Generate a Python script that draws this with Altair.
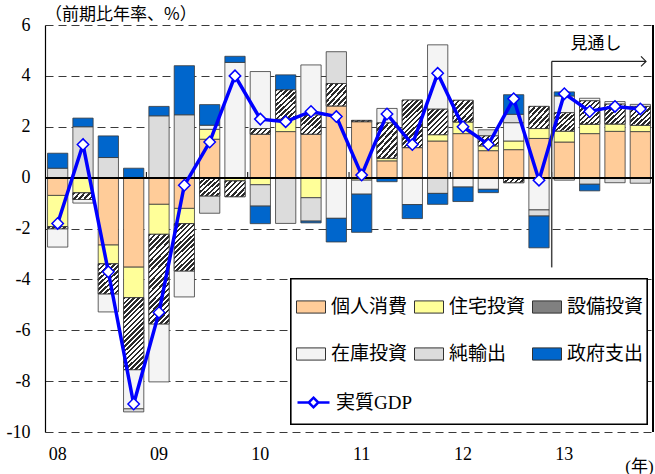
import altair as alt
import pandas as pd

# Quarterly periods, 2008Q1 - 2013Q4
quarters = [
    "08Q1", "08Q2", "08Q3", "08Q4", "09Q1", "09Q2", "09Q3", "09Q4",
    "10Q1", "10Q2", "10Q3", "10Q4", "11Q1", "11Q2", "11Q3", "11Q4",
    "12Q1", "12Q2", "12Q3", "12Q4", "13Q1", "13Q2", "13Q3", "13Q4",
]

# Stacking order, from the zero line outwards
components = ["個人消費", "住宅投資", "設備投資", "在庫投資", "純輸出", "政府支出"]

# Contributions to real GDP growth (annualised q/q, % points)
consumption = [-0.70, 0.00, -2.65, -3.52, -1.05, -1.21, 1.51, 0.00,
               1.71, 1.81, 1.71, 2.82, 2.20, 0.66, 1.18, 1.44,
               1.73, 1.06, 1.10, 1.54, 1.40, 1.73, 1.82, 1.81]
housing = [-1.23, -0.60, -0.74, -1.20, -1.18, -0.60, 0.39, -0.13,
           -0.28, 0.49, -0.79, 0.00, -0.10, 0.10, 0.00, 0.25,
           0.46, 0.19, 0.34, 0.39, 0.43, 0.37, 0.29, 0.25]
equipment = [-0.08, -0.26, -1.18, -2.83, -3.52, -1.86, -0.72, -0.62,
             0.22, 1.15, 0.75, 0.88, 0.05, 1.39, 1.87, 1.00,
             0.85, 0.39, -0.20, 0.87, 0.72, 0.92, 0.78, 0.74]
inventory = [-0.72, -0.14, -0.71, -1.54, -2.28, -1.02, 0.16, 4.53,
             2.24, 0.00, 1.97, -1.60, -0.55, 0.57, -1.06, 2.53,
             -0.37, -0.46, 0.72, -1.27, 0.66, 0.10, 0.10, 0.08]
net_exports = [0.37, 2.00, 0.79, -0.12, 2.43, 2.47, -0.68, 0.00,
               -0.84, -1.80, -0.92, 1.25, 0.00, 0.00, 0.00, -0.62,
               0.00, 0.24, 0.33, -0.24, -0.10, -0.26, -0.20, -0.22]
government = [0.59, 0.34, 0.85, 0.37, 0.37, 1.93, 0.81, 0.24,
              -0.69, 0.59, -0.07, -0.93, -1.50, -0.16, -0.55, -0.43,
              -0.57, -0.13, 0.77, -1.25, 0.16, -0.26, 0.00, 0.00]
real_gdp = [-1.8, 1.3, -3.7, -8.9, -5.3, -0.3, 1.4, 4.0,
            2.3, 2.2, 2.6, 2.4, 0.1, 2.5, 1.3, 4.1,
            2.0, 1.3, 3.1, -0.1, 3.3, 2.6, 2.8, 2.7]

fills = {
    "個人消費": "#FFCC99",
    "住宅投資": "#FFFF99",
    "設備投資": "#808080",
    "在庫投資": "#F4F4F4",
    "純輸出": "#DCDCDC",
    "政府支出": "#0066CC",
}
# Legend fills column by column (2 rows x 3 columns)
legend_order = ["個人消費", "在庫投資", "住宅投資", "純輸出", "設備投資", "政府支出"]

series = [consumption, housing, equipment, inventory, net_exports, government]

rows = []
for k, (name, vals) in enumerate(zip(components, series)):
    for q, v in zip(quarters, vals):
        rows.append({"q": q, "comp": name, "order": k, "value": v})
contrib = pd.DataFrame(rows)
gdp = pd.DataFrame({"q": quarters, "gdp": real_gdp, "series": "実質GDP"})
year_starts = pd.DataFrame({"q": [q for q in quarters if q.endswith("Q1")][1:]})
forecast = pd.DataFrame({"q": ["13Q1"]})

W, H = 608, 407
Y_MIN, Y_MAX = -10, 6
PX_PER_UNIT = H / (Y_MAX - Y_MIN)
BAR_W = W / len(quarters) * 0.8

SERIF_CJK = "'Liberation Serif', 'Noto Sans CJK JP'"
CJK = "'Noto Sans CJK JP'"
EDGE = "#3a3a3a"

x_enc = alt.X(
    "q:O",
    sort=quarters,
    scale=alt.Scale(domain=quarters, paddingInner=0.2, paddingOuter=0.1),
    axis=alt.Axis(
        title="(年)",
        labelExpr="slice(datum.value, -2) == 'Q1' ? slice(datum.value, 0, 2) : ''",
        labelAngle=0,
        labelFont="Liberation Serif",
        labelFontSize=18,
        labelColor="black",
        labelPadding=22,
        labelBaseline="middle",
        ticks=False,
        tickSize=0,
        domain=False,
        grid=False,
        titleFont=SERIF_CJK,
        titleFontSize=17,
        titleFontWeight="normal",
        titleColor="black",
        titleX=594,
        titleY=34,
        titleAlign="center",
        titleBaseline="middle",
    ),
)

y_scale = alt.Scale(domain=[Y_MIN, Y_MAX], nice=False, zero=False)
y_axis = alt.Axis(
    title=None,
    values=list(range(Y_MIN, Y_MAX + 1, 2)),
    labelExpr="datum.value + ''",
    labelFont="Liberation Serif",
    labelFontSize=18,
    labelColor="black",
    labelPadding=15,
    ticks=False,
    tickSize=0,
    domainColor="black",
    domainWidth=1.2,
    grid=True,
    gridColor="#3a3a3a",
    gridDash=[8, 5],
    gridWidth=1,
)

stacked = (
    alt.Chart(contrib)
    .transform_filter("datum.value != 0")
    .transform_stack(
        stack="value",
        groupby=["q"],
        sort=[alt.SortField("order", order="ascending")],
        as_=["v0", "v1"],
    )
)

rect_symbol = "M-1,-0.42H1V0.42H-1Z"
bars = stacked.mark_bar(stroke=EDGE, strokeWidth=0.8).encode(
    x=x_enc,
    y=alt.Y("v0:Q", scale=y_scale, axis=y_axis),
    y2="v1:Q",
    fill=alt.Fill(
        "comp:N",
        scale=alt.Scale(domain=legend_order, range=[fills[c] for c in legend_order]),
        legend=alt.Legend(
            title=None,
            orient="none",
            legendX=251,
            legendY=267,
            columns=3,
            symbolType=rect_symbol,
            symbolSize=841,
            symbolStrokeColor="#333333",
            symbolStrokeWidth=1,
            labelFont=CJK,
            labelFontSize=19,
            labelColor="black",
            labelOffset=5,
            labelLimit=0,
            columnPadding=4,
            rowPadding=22,
            padding=0,
        ),
    ),
)


def hatch(height_px, period=5.0, dark="#2b2b2b", light="#ffffff"):
    """Diagonal '/' stripes at roughly 45 degrees for a bar of the given height."""
    h = max(height_px, 1.0)
    a0 = BAR_W / h
    s = (a0 + 1) / (a0 * a0 + 1)
    n = max(1, round((BAR_W + h) / period))
    stops = []
    for i in range(n):
        lo, mid, hi = i / n, (i + 0.5) / n, (i + 1) / n
        stops += [
            alt.GradientStop(color=dark, offset=lo),
            alt.GradientStop(color=dark, offset=mid),
            alt.GradientStop(color=light, offset=mid),
            alt.GradientStop(color=light, offset=hi),
        ]
    return alt.LinearGradient(gradient="linear", stops=stops, x1=0, y1=0, x2=s * a0, y2=s)


# Hatched overlay for equipment investment, grouped by segment height
edges = [0, 0.15, 0.3, 0.5, 0.7, 0.9, 1.1, 1.4, 1.7, 2.1, 2.6, 3.1, 3.7, 4.5]
hatch_layers = []
for lo, hi in zip(edges[:-1], edges[1:]):
    if not any(lo <= abs(v) < hi and v != 0 for v in equipment):
        continue
    rep = (lo + hi) / 2 * PX_PER_UNIT
    hatch_layers.append(
        stacked.transform_filter(
            f"datum.comp == '設備投資' && abs(datum.value) >= {lo} && abs(datum.value) < {hi}"
        )
        .mark_bar(fill=hatch(rep), stroke=EDGE, strokeWidth=0.8)
        .encode(x="q:O", y="v0:Q", y2="v1:Q")
    )

zero_line = alt.Chart(gdp).mark_rule(color="black", strokeWidth=1.2).encode(y=alt.datum(0))

year_ticks = (
    alt.Chart(year_starts)
    .mark_rule(color="black", strokeWidth=1, xOffset=-2.5)
    .encode(x=alt.X("q:O", bandPosition=0), y=alt.datum(0), y2=alt.datum(0.22))
)

gdp_symbol = "M-1,0H-0.3M0.3,0H1M0,-0.3L0.3,0L0,0.3L-0.3,0Z"
gdp_line = alt.Chart(gdp).mark_line(strokeWidth=3.5).encode(
    x="q:O",
    y="gdp:Q",
    stroke=alt.Stroke(
        "series:N",
        scale=alt.Scale(domain=["実質GDP"], range=["#0000FF"]),
        legend=alt.Legend(
            title=None,
            orient="none",
            legendX=251,
            legendY=360,
            symbolType=gdp_symbol,
            symbolSize=1024,
            symbolStrokeWidth=2.5,
            symbolFillColor="white",
            labelFont=SERIF_CJK,
            labelFontSize=19,
            labelColor="black",
            labelOffset=5,
            labelLimit=0,
            padding=0,
        ),
    ),
)
gdp_points = alt.Chart(gdp).mark_point(
    shape="diamond", filled=True, fill="white", stroke="#0000FF", strokeWidth=1.5, size=130, opacity=1
).encode(x="q:O", y="gdp:Q")

legend_frame = alt.Chart(gdp).mark_rect(fill="white", stroke="black", strokeWidth=1.2).encode(
    x=alt.value(246), x2=alt.value(602), y=alt.value(254), y2=alt.value(399)
)

right_border = alt.Chart(gdp).mark_rule(color="black", strokeWidth=1.2).encode(
    x=alt.value(W), y=alt.value(0), y2=alt.value(H)
)

forecast_vline = (
    alt.Chart(forecast)
    .mark_rule(color="#444444", strokeWidth=1.5, xOffset=-2.5)
    .encode(x=alt.X("q:O", bandPosition=0), y=alt.datum(4.57), y2=alt.datum(-3.53))
)
forecast_arrow = (
    alt.Chart(forecast)
    .mark_rule(color="#222222", strokeWidth=1.2, xOffset=-2.5)
    .encode(x=alt.X("q:O", bandPosition=0), x2=alt.value(601), y=alt.datum(4.57))
)
arrow_head = alt.Chart(forecast).mark_point(
    shape="M-1,-1L0,0L-1,1", filled=False, color="#222222", strokeWidth=1.2, size=100, opacity=1
).encode(x=alt.value(601), y=alt.datum(4.57))
forecast_label = alt.Chart(forecast).mark_text(
    text="見通し", font=CJK, fontSize=17, color="black", align="center", baseline="middle"
).encode(x=alt.value(551), y=alt.datum(5.24))

chart = (
    alt.layer(
        bars,
        *hatch_layers,
        zero_line,
        year_ticks,
        gdp_line,
        gdp_points,
        legend_frame,
        right_border,
        forecast_vline,
        forecast_arrow,
        arrow_head,
        forecast_label,
    )
    .resolve_scale(fill="independent", stroke="independent")
    .properties(
        width=W,
        height=H,
        autosize=alt.AutoSizeParams(type="none"),
        padding={"left": 45, "top": 25, "right": 2, "bottom": 42},
        title=alt.TitleParams(
            "（前期比年率、%）",
            anchor="start",
            frame="group",
            font=CJK,
            fontSize=17,
            fontWeight="normal",
            color="black",
            offset=3,
            dy=11,
        ),
        background="white",
    )
    .configure_view(stroke=None)
)

chart.save("out.html", embed_options={"renderer": "svg", "actions": False})
